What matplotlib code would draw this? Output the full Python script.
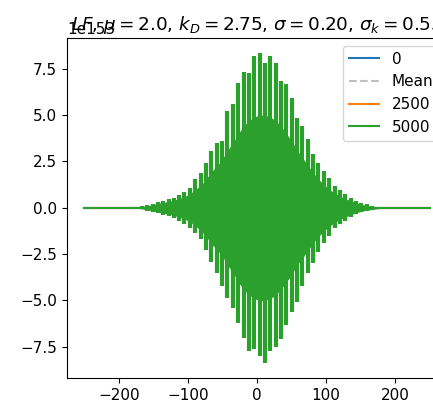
import numpy as np
import matplotlib
matplotlib.use("Agg")
import matplotlib.pyplot as plt

plt.rcParams["font.size"] = 11

SCALE = 1e153

# spike positions (x) and their upper / lower tips (in units of 1e153)
spike_x = [-174, -166.5, -159, -151, -143.5, -136, -128, -120.5, -112.75, -105,
           -97, -89.25, -81.5, -73.75, -66, -58.25, -50.5, -42.75, -35, -27.25,
           -19.5, -11.75, -4, 3.75, 11.5, 19.25, 27, 34.75, 42.5, 50.25,
           58, 65.75, 73.5, 81.25, 89, 96.75, 104.5, 112.25, 120, 127.75,
           135.5, 143.25, 151, 158.75, 166.5, 174.25, 182]
spike_up = [0.03, 0.08, 0.15, 0.22, 0.30, 0.38, 0.45, 0.55, 0.70, 0.85,
            1.08, 1.56, 1.88, 2.42, 3.06, 3.49, 3.60, 5.22, 5.59, 6.72,
            7.31, 7.26, 8.17, 8.33, 7.80, 8.17, 7.80, 6.83, 6.67, 5.91,
            4.84, 4.41, 3.71, 2.90, 2.42, 1.99, 1.61, 1.18, 0.95, 0.75,
            0.55, 0.38, 0.26, 0.18, 0.12, 0.07, 0.03]
spike_low = [-0.03, -0.08, -0.15, -0.22, -0.30, -0.38, -0.45, -0.55, -0.70, -0.85,
             -1.10, -1.35, -1.70, -2.30, -2.90, -3.50, -4.20, -4.85, -5.40, -6.20,
             -7.00, -7.70, -7.60, -8.00, -8.35, -7.70, -7.50, -7.10, -6.30, -5.60,
             -5.10, -4.20, -3.50, -3.00, -2.40, -1.90, -1.50, -1.10, -0.90, -0.70,
             -0.52, -0.36, -0.25, -0.17, -0.11, -0.06, -0.03]
# solid (densely oscillating) core of the 5000 series
core_up = [0.02, 0.06, 0.11, 0.17, 0.23, 0.29, 0.34, 0.41, 0.50, 0.60,
           0.75, 1.00, 1.20, 1.55, 1.95, 2.25, 2.60, 3.10, 3.50, 4.00,
           4.40, 4.70, 4.90, 5.00, 5.00, 4.90, 4.70, 4.40, 4.00, 3.60,
           3.10, 2.70, 2.30, 1.90, 1.55, 1.25, 1.00, 0.80, 0.62, 0.50,
           0.38, 0.27, 0.19, 0.13, 0.09, 0.05, 0.02]
core_low = [-v for v in core_up]

x_range = [-250, 250]
flat_0 = [0.0, 0.0]
flat_mean = [0.0, 0.0]
flat_2500 = [0.0, 0.0]
flat_5000 = [0.0, 0.0]

fig = plt.figure(figsize=(4.33, 4.08), dpi=100)
ax = fig.add_axes([67 / 433, 30 / 408, 380 / 433, 340 / 408])

ax.plot(x_range, np.array(flat_0) * SCALE, color="C0", label="0")
ax.plot(x_range, np.array(flat_mean) * SCALE, color="gray", ls="--", alpha=0.5, label="Mean")
ax.plot(x_range, np.array(flat_2500) * SCALE, color="C1", label="2500")
ax.plot(x_range, np.array(flat_5000) * SCALE, color="C2", label="5000")
ax.fill_between(spike_x, np.array(core_low) * SCALE, np.array(core_up) * SCALE,
                color="C2", lw=0)
ax.vlines(spike_x, np.array(spike_low) * SCALE, np.array(spike_up) * SCALE,
          color="C2", lw=3.0)

ax.set_title(r"$LF$, $\mu = 2.0$, $k_D = 2.75$, $\sigma = 0.20$, $\sigma_k = 0.55$",
             y=1.0, pad=6)
ax.legend(loc="upper right")

fig.savefig("out.png", dpi=100)
